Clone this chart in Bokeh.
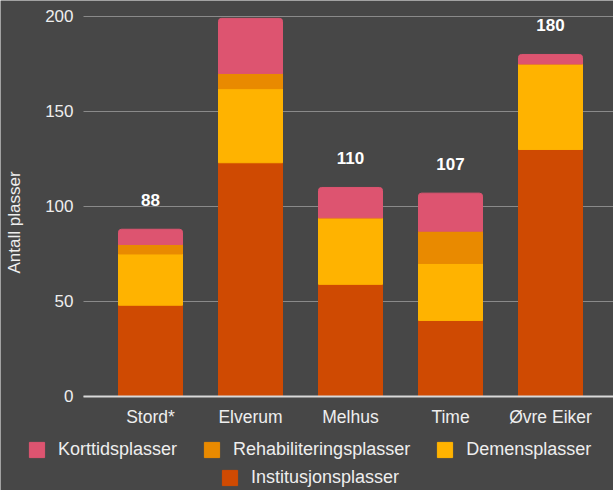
from bokeh.plotting import figure
from bokeh.models import ColumnDataSource, Range1d, FixedTicker, Legend, LegendItem
from bokeh.core.properties import value
from bokeh.embed import file_html
from bokeh.resources import INLINE

categories = ["Stord*", "Elverum", "Melhus", "Time", "Øvre Eiker"]
institusjon = [48, 123, 59, 40, 130]
demens = [27, 39, 35, 30, 45]
rehab = [5, 8, 0, 17, 0]
korttid = [8, 29, 16, 20, 5]
total_labels = ["88", "", "110", "107", "180"]
y_ticks = [0, 50, 100, 150, 200]

series_names = ["Institusjonsplasser", "Demensplasser", "Rehabiliteringsplasser", "Korttidsplasser"]
colors = ["#CF4A02", "#FFB300", "#E98A00", "#DD5470"]

BG = "#474747"
FONT = "Liberation Sans"

xs = list(range(len(categories)))
totals = [a + b + c + d for a, b, c, d in zip(institusjon, demens, rehab, korttid)]
src = ColumnDataSource(data={
    "x": xs,
    "Institusjonsplasser": institusjon,
    "Demensplasser": demens,
    "Rehabiliteringsplasser": rehab,
    "Korttidsplasser": korttid,
    "total": totals,
    "label": total_labels,
})

X_LO, X_HI = -0.67, 4.63
p = figure(width=613, height=490, output_backend="svg", toolbar_location=None,
           x_range=Range1d(-1.5, X_HI), y_range=Range1d(-49.5, 208.4),
           min_border_left=0, min_border_right=0, min_border_top=0, min_border_bottom=0)
p.background_fill_color = BG
p.border_fill_color = BG
p.outline_line_color = None

rs = p.vbar_stack(series_names, x="x", width=0.64, color=colors, source=src)
rs[3].glyph.border_radius = (3, 3, 0, 0)

p.text(x="x", y="total", text="label", source=src, text_align="center",
       text_baseline="alphabetic", y_offset=-29, text_color="#ffffff",
       text_font=value(FONT), text_font_size="17px", text_font_style="bold",
       background_fill_color=BG)

# axes
p.xaxis.fixed_location = 0
p.xaxis.bounds = (X_LO, X_HI)
p.xaxis.ticker = FixedTicker(ticks=xs)
p.xaxis.major_label_overrides = {i: c for i, c in zip(xs, categories)}
p.xaxis.major_tick_line_color = None
p.xaxis.minor_tick_line_color = None
p.xaxis.axis_line_color = "#d9d9d9"
p.xaxis.axis_line_width = 2
p.xaxis.major_label_text_color = "#eeeeee"
p.xaxis.major_label_text_font = FONT
p.xaxis.major_label_text_font_size = "17.5px"
p.xaxis.major_label_standoff = 5

p.yaxis.fixed_location = X_LO
p.yaxis.bounds = (-17, 200)
p.yaxis.ticker = FixedTicker(ticks=y_ticks)
p.yaxis.axis_line_color = None
p.yaxis.major_tick_line_color = None
p.yaxis.minor_tick_line_color = None
p.yaxis.major_label_text_color = "#eeeeee"
p.yaxis.major_label_text_font = FONT
p.yaxis.major_label_text_font_size = "17px"
p.yaxis.major_label_standoff = 4
p.yaxis.axis_label = "Antall plasser"
p.yaxis.axis_label_text_color = "#eeeeee"
p.yaxis.axis_label_text_font = FONT
p.yaxis.axis_label_text_font_size = "17px"
p.yaxis.axis_label_text_font_style = "normal"
p.yaxis.axis_label_standoff = 18

p.xgrid.grid_line_color = None
p.ygrid.grid_line_color = "#8a8a8a"
p.ygrid.grid_line_width = 1
p.ygrid.cross_bounds = (X_LO, X_HI)


def make_legend(items, loc):
    lg = Legend(items=items, orientation="horizontal", location=loc,
                glyph_width=19, glyph_height=19, label_height=19, padding=0, margin=0,
                spacing=25, label_standoff=12, border_line_color=None,
                background_fill_alpha=0, label_text_color="#eeeeee",
                label_text_font=FONT, label_text_font_size="18px")
    return lg


leg1 = make_legend([
    LegendItem(label=series_names[3], renderers=[rs[3]]),
    LegendItem(label=series_names[2], renderers=[rs[2]]),
    LegendItem(label=series_names[1], renderers=[rs[1]]),
], (27, 30))
leg2 = make_legend([
    LegendItem(label=series_names[0], renderers=[rs[0]]),
], (220, 2))
p.add_layout(leg1, "center")
p.add_layout(leg2, "center")

open("out.html", "w").write(file_html(p, INLINE))
